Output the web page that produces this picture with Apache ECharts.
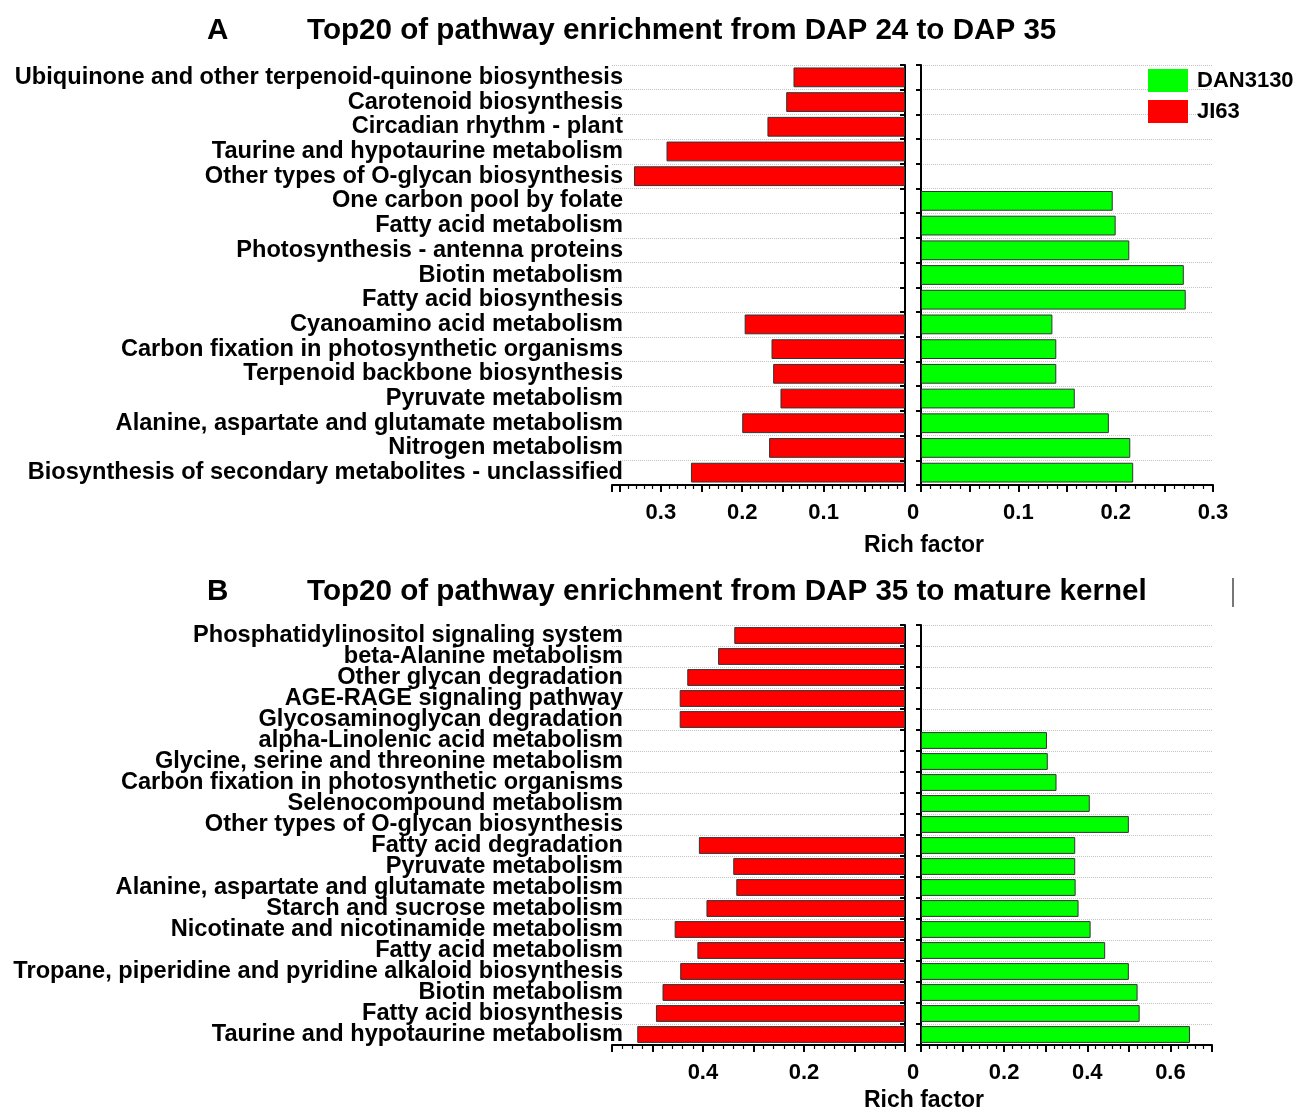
<!DOCTYPE html>
<html>
<head>
<meta charset="utf-8">
<script src="https://cdn.jsdelivr.net/npm/echarts@6/dist/echarts.min.js"></script>
<style>
  html, body { margin: 0; padding: 0; background: #fff; }
  #chart { width: 1301px; height: 1110px; }
</style>
</head>
<body>
<div id="chart"></div>
<script>
// Panel A: DAP 24 -> DAP 35
const categoriesA = [
  'Ubiquinone and other terpenoid-quinone biosynthesis',
  'Carotenoid biosynthesis',
  'Circadian rhythm - plant',
  'Taurine and hypotaurine metabolism',
  'Other types of O-glycan biosynthesis',
  'One carbon pool by folate',
  'Fatty acid metabolism',
  'Photosynthesis - antenna proteins',
  'Biotin metabolism',
  'Fatty acid biosynthesis',
  'Cyanoamino acid metabolism',
  'Carbon fixation in photosynthetic organisms',
  'Terpenoid backbone biosynthesis',
  'Pyruvate metabolism',
  'Alanine, aspartate and glutamate metabolism',
  'Nitrogen metabolism',
  'Biosynthesis of secondary metabolites - unclassified'
];
const ji63A = [0.137, 0.146, 0.169, 0.293, 0.333, null, null, null, null, null,
  0.197, 0.164, 0.162, 0.153, 0.200, 0.167, 0.263];
const dan3130A = [null, null, null, null, null, 0.197, 0.200, 0.214, 0.270, 0.272,
  0.135, 0.139, 0.139, 0.158, 0.193, 0.215, 0.218];

// Panel B: DAP 35 -> mature kernel
const categoriesB = [
  'Phosphatidylinositol signaling system',
  'beta-Alanine metabolism',
  'Other glycan degradation',
  'AGE-RAGE signaling pathway',
  'Glycosaminoglycan degradation',
  'alpha-Linolenic acid metabolism',
  'Glycine, serine and threonine metabolism',
  'Carbon fixation in photosynthetic organisms',
  'Selenocompound metabolism',
  'Other types of O-glycan biosynthesis',
  'Fatty acid degradation',
  'Pyruvate metabolism',
  'Alanine, aspartate and glutamate metabolism',
  'Starch and sucrose metabolism',
  'Nicotinate and nicotinamide metabolism',
  'Fatty acid metabolism',
  'Tropane, piperidine and pyridine alkaloid biosynthesis',
  'Biotin metabolism',
  'Fatty acid biosynthesis',
  'Taurine and hypotaurine metabolism'
];
const ji63B = [0.338, 0.370, 0.431, 0.446, 0.446, null, null, null, null, null,
  0.408, 0.340, 0.334, 0.393, 0.456, 0.411, 0.445, 0.480, 0.493, 0.530];
const dan3130B = [null, null, null, null, null, 0.303, 0.305, 0.326, 0.406, 0.500,
  0.371, 0.371, 0.372, 0.379, 0.408, 0.443, 0.500, 0.521, 0.526, 0.647];

// Tick labels shown on each value axis
const ticksLeftA = [0.1, 0.2, 0.3];
const ticksRightA = [0, 0.1, 0.2, 0.3];
const ticksLeftB = [0.2, 0.4];
const ticksRightB = [0, 0.2, 0.4, 0.6];

const FONT = '"Liberation Sans", Arial, sans-serif';
const RED = '#ff0000';
const GREEN = '#00ff00';

function tickFormatter(list) {
  return function (v) {
    const r = Math.round(v * 100) / 100;
    if (!list.some(t => Math.abs(t - r) < 1e-9)) return '';
    if (r === 0) return '{z|0}';
    return r.toFixed(1);
  };
}

function valueAxis(gridIndex, inverse, max, interval, list) {
  return {
    gridIndex: gridIndex,
    type: 'value',
    inverse: inverse,
    min: 0,
    max: max,
    interval: interval,
    axisLine: { show: true, onZero: false, lineStyle: { color: '#000', width: 2 } },
    axisTick: { show: true, length: 7, lineStyle: { color: '#000', width: 2 } },
    minorTick: { show: true, splitNumber: 5, length: 4, lineStyle: { color: '#000', width: 1.2 } },
    splitLine: { show: false },
    axisLabel: {
      formatter: tickFormatter(list),
      margin: 17,
      color: '#000',
      fontFamily: FONT,
      fontWeight: 'bold',
      fontSize: 22,
      showMinLabel: true,
      showMaxLabel: true,
      hideOverlap: false,
      rich: { z: { fontFamily: FONT, fontWeight: 'bold', fontSize: 22, color: '#000', padding: [0, 16, 0, 0] } }
    }
  };
}

const dottedSplit = { show: true, lineStyle: { type: 'dotted', color: '#c4c4c4', width: 1 } };

function labelAxis(gridIndex, cats, fontSize) {
  return {
    gridIndex: gridIndex,
    type: 'category',
    data: cats,
    inverse: true,
    position: 'left',
    axisLine: { show: false },
    axisTick: { show: false },
    splitLine: dottedSplit,
    axisLabel: {
      margin: -11,
      color: '#000',
      fontFamily: FONT,
      fontWeight: 'bold',
      fontSize: fontSize,
      interval: 0
    }
  };
}

function lineAxis(gridIndex, cats, position, inside) {
  return {
    gridIndex: gridIndex,
    type: 'category',
    data: cats,
    inverse: true,
    position: position,
    axisLine: { show: true, onZero: false, lineStyle: { color: '#000', width: 2 } },
    axisTick: { show: true, inside: inside, length: 5, interval: 0, lineStyle: { color: '#000', width: 2 } },
    axisLabel: { show: false },
    splitLine: position === 'left' ? dottedSplit : { show: false }
  };
}

function barSeries(name, color, xi, yi, data) {
  return {
    name: name,
    type: 'bar',
    xAxisIndex: xi,
    yAxisIndex: yi,
    data: data,
    barWidth: '80%',
    itemStyle: { color: color, borderColor: '#333', borderWidth: 1 },
    emphasis: { disabled: true },
    animation: false
  };
}

const chart = echarts.init(document.getElementById('chart'), null, { renderer: 'canvas' });

const titleStyle = { fontFamily: FONT, fontWeight: 'bold', fontSize: 29.6, color: '#000' };

chart.setOption({
  backgroundColor: '#fff',
  animation: false,
  title: [
    { text: 'A', left: 202, top: 11, textStyle: titleStyle },
    { text: 'Top20 of pathway enrichment from DAP 24 to DAP 35', left: 302, top: 11, textStyle: titleStyle },
    { text: 'B', left: 202, top: 572, textStyle: titleStyle },
    { text: 'Top20 of pathway enrichment from DAP 35 to mature kernel', left: 302, top: 572, textStyle: titleStyle }
  ],
  legend: {
    data: ['DAN3130', 'JI63'],
    orient: 'vertical',
    left: 1143,
    top: 64,
    icon: 'rect',
    itemWidth: 40,
    itemHeight: 23,
    itemGap: 8,
    itemStyle: { borderWidth: 0 },
    textStyle: { fontFamily: FONT, fontWeight: 'bold', fontSize: 22, lineHeight: 23, color: '#000', padding: [0, 0, 0, 4] }
  },
  grid: [
    { left: 612, top: 65, width: 293, height: 420 },
    { left: 921, top: 65, width: 292, height: 420 },
    { left: 612, top: 625, width: 293, height: 420 },
    { left: 921, top: 625, width: 291, height: 420 }
  ],
  xAxis: [
    valueAxis(0, true, 0.36, 0.05, ticksLeftA),
    valueAxis(1, false, 0.3, 0.05, ticksRightA),
    valueAxis(2, true, 0.58, 0.1, ticksLeftB),
    valueAxis(3, false, 0.7, 0.1, ticksRightB)
  ],
  yAxis: [
    labelAxis(0, categoriesA, 23.6),
    lineAxis(0, categoriesA, 'right', true),
    lineAxis(1, categoriesA, 'left', false),
    labelAxis(2, categoriesB, 23.6),
    lineAxis(2, categoriesB, 'right', true),
    lineAxis(3, categoriesB, 'left', false)
  ],
  series: [
    barSeries('JI63', RED, 0, 0, ji63A),
    barSeries('DAN3130', GREEN, 1, 2, dan3130A),
    barSeries('JI63', RED, 2, 3, ji63B),
    barSeries('DAN3130', GREEN, 3, 5, dan3130B)
  ],
  graphic: [
    { type: 'text', x: 924, y: 546, style: { text: 'Rich factor', font: 'bold 23px ' + FONT, fill: '#000', align: 'center', verticalAlign: 'middle' } },
    { type: 'text', x: 924, y: 1101, style: { text: 'Rich factor', font: 'bold 23px ' + FONT, fill: '#000', align: 'center', verticalAlign: 'middle' } },
    { type: 'line', shape: { x1: 1233, y1: 578, x2: 1233, y2: 607 }, style: { stroke: '#777', lineWidth: 2 } }
  ]
});
</script>
</body>
</html>
